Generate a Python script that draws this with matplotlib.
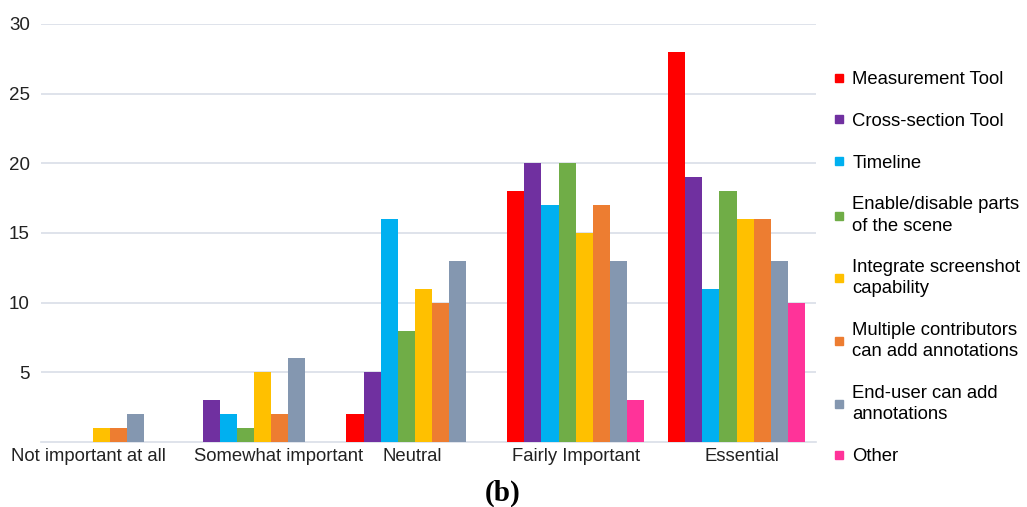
import numpy as np
import matplotlib.pyplot as plt
import matplotlib.transforms as mtransforms
from matplotlib.lines import Line2D

categories = ["Not important at all", "Somewhat important", "Neutral",
              "Fairly Important", "Essential"]

series_names = ["Measurement Tool", "Cross-section Tool", "Timeline",
                "Enable/disable parts\nof the scene",
                "Integrate screenshot\ncapability",
                "Multiple contributors\ncan add annotations",
                "End-user can add\nannotations", "Other"]

measurement = [0, 0, 2, 18, 28]
cross_section = [0, 3, 5, 20, 19]
timeline = [0, 2, 16, 17, 11]
enable_disable = [0, 1, 8, 20, 18]
screenshot = [1, 5, 11, 15, 16]
contributors = [1, 2, 10, 17, 16]
end_user = [2, 6, 13, 13, 13]
other = [0, 0, 0, 3, 10]

colors = ["#FF0000", "#7030A0", "#00B0F0", "#70AD47",
          "#FFC000", "#ED7D31", "#8497B0", "#FF3399"]

all_series = [measurement, cross_section, timeline, enable_disable,
              screenshot, contributors, end_user, other]

plt.rcParams['font.family'] = ['Liberation Sans', 'DejaVu Sans']

fig = plt.figure(figsize=(10.27, 5.07), dpi=100)
ax = fig.add_axes([0.040, 0.128, 0.755, 0.825])

x = np.arange(len(categories))
n = len(all_series)
width = 0.85 / n

for i, (vals, col) in enumerate(zip(all_series, colors)):
    offs = (i - (n - 1) / 2) * width
    ax.bar(x + offs, vals, width, color=col, zorder=3)

ax.set_xlim(-0.323, 4.497)
ax.set_ylim(0, 30)
ax.set_yticks([5, 10, 15, 20, 25, 30])
ax.set_xticks(x)
ax.set_xticklabels(categories, fontsize=13.3, color="#222222")
ax.tick_params(axis='y', labelsize=13.5, colors="#222222", length=0, pad=8)
ax.tick_params(axis='x', length=0, pad=4)

# nudge the first two labels apart so they don't collide (like the original)
shifts = [-0.05, 0.25, -0.03, 0, 0.05]
for lab, dx in zip(ax.get_xticklabels(), shifts):
    lab.set_transform(lab.get_transform() +
                      mtransforms.ScaledTranslation(dx, 0, fig.dpi_scale_trans))

ax.grid(axis='y', color="#D9DEE7", linewidth=1.2, zorder=0)
for s in ['top', 'right', 'left']:
    ax.spines[s].set_visible(False)
ax.spines['bottom'].set_color("#D9DEE7")
ax.spines['bottom'].set_linewidth(1.2)

handles = [Line2D([0], [0], marker='s', linestyle='None', markersize=6,
                  markerfacecolor=c, markeredgecolor=c) for c in colors]
leg = ax.legend(handles, series_names, loc='center left',
                bbox_to_anchor=(1.0, 0.416), frameon=False, fontsize=13.3,
                handlelength=0.6, handletextpad=0.45, labelspacing=1.34)
for t in leg.get_texts():
    t.set_linespacing(1.32)

fig.text(0.489, 0.026, "(b)", ha='center', va='center', fontsize=21,
         fontweight='bold', family='Liberation Serif')

fig.savefig("out.png", dpi=100)
